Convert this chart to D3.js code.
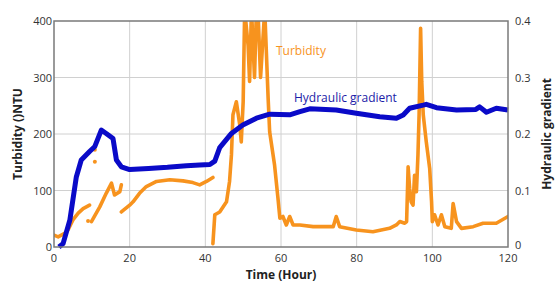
<!DOCTYPE html>
<html>
<head>
<meta charset="utf-8">
<script src="https://cdn.jsdelivr.net/npm/d3@7"></script>
<style>
  body { margin: 0; background: #fff; }
  text { font-family: "Open Sans", "DejaVu Sans", sans-serif; }
  .tick-label { font-size: 11px; fill: #333; }
  .axis-title { font-size: 12px; font-weight: bold; fill: #222; }
</style>
</head>
<body>
<svg id="chart" width="555" height="287"></svg>
<script>
//////////////////////////////////////////////////////////////////////////////////////////
// Data
//////////////////////////////////////////////////////////////////////////////////////////
var time_ticks = [0, 20, 40, 60, 80, 100, 120]
var turb_ticks = [0, 100, 200, 300, 400]
var grad_ticks = [0, 0.1, 0.2, 0.3, 0.4]

// hydraulic gradient [hour, value]
var gradient = [
  [1.3, 0], [2.4, 0.006], [4.2, 0.048], [5.9, 0.124], [7.2, 0.154], [9.4, 0.169],
  [10.8, 0.178], [12.5, 0.207], [13.8, 0.201], [15.6, 0.192], [16.5, 0.154],
  [17.8, 0.142], [20, 0.137], [25, 0.139], [30, 0.141], [35, 0.144], [38.5, 0.145],
  [41.2, 0.146], [42.5, 0.152], [43.8, 0.176], [46.9, 0.201], [49.9, 0.216],
  [53.5, 0.228], [57, 0.235], [62.3, 0.234], [65, 0.2395], [67.6, 0.2445],
  [74.6, 0.2425], [79.9, 0.2366], [86.1, 0.2306], [90.5, 0.2278], [92.3, 0.2336],
  [94, 0.2455], [97.6, 0.251], [98.4, 0.2525], [101.1, 0.2466], [106.4, 0.2425],
  [111.5, 0.2435], [112.5, 0.248], [114.3, 0.2384], [116.9, 0.2455], [120, 0.2425]
]

// turbidity [hour, NTU], null = gap in the record
var turbidity = [
  [0, 21], [1.1, 18], [2.8, 24], [3.7, 30], [5, 48], [6.4, 60], [7.7, 68], [9.4, 74], null,
  [9.9, 45], [12.1, 71], [13.8, 95], [15.2, 113], [16, 92], [17.4, 98], [17.8, 110], null,
  [17.8, 62], [20, 74], [20.9, 80], [22.6, 95], [24.4, 107], [27.1, 116], [30.6, 119],
  [34.1, 117], [36.7, 114], [38.5, 110], [40.3, 116], [42, 123], null,
  [42, 6], [42.5, 57], [43.8, 62], [45.6, 80], [46.4, 116], [46.9, 163], [47.3, 234],
  [48.2, 257], [49.1, 216], [49.5, 186], [50, 257], [50.4, 420], [51.3, 357], [51.7, 293],
  [52.2, 420], [53, 300], [53.5, 420], [53.9, 420], [54.6, 300], [55.7, 420], [56.6, 263],
  [57, 204], [58.3, 145], [59.2, 86], [59.7, 51], [60.5, 54], [61.4, 39], [62.3, 54],
  [63.2, 39], [65, 39], [68.5, 36], [73.8, 36], [74.6, 54], [75.5, 36], [79.9, 30],
  [84.3, 27], [88.7, 33], [90.5, 39], [91.4, 45], [92.7, 42], [93.2, 45], [93.6, 142],
  [94, 104], [94.4, 80], [94.9, 74], [95.3, 127], [95.8, 98], [96.2, 163], [96.5, 234],
  [96.9, 387], [97.2, 293], [97.6, 234], [98.4, 186], [99.3, 139], [99.8, 80], [100, 45],
  [100.6, 57], [101.5, 39], [102.4, 57], [103.3, 36], [105, 33], [105.5, 77], [106.4, 45],
  [107.7, 33], [110.8, 36], [113.4, 42], [116.9, 42], [120, 54]
]

// isolated turbidity readings
var turbidity_dots = [[9, 46], [10.8, 172], [10.8, 151]]

//////////////////////////////////////////////////////////////////////////////////////////
// Layout
//////////////////////////////////////////////////////////////////////////////////////////
var plot = { left: 54, right: 508, top: 21, bottom: 247 }
var colors = { turbidity: '#f7931e', gradient: '#0a0ac8', frame: '#7a7a7a', grid: '#d0d0d0' }

var svg = d3.select('#chart')

var x = d3.scaleLinear().domain([0, 120]).range([plot.left, plot.right])
var y_turb = d3.scaleLinear().domain([0, 400]).range([plot.bottom, plot.top])
var y_grad = d3.scaleLinear().domain([0, 0.4]).range([plot.bottom, plot.top])

svg.append('clipPath')
  .attr('id', 'clip-plot')
  .append('rect')
  .attr('x', plot.left)
  .attr('y', plot.top)
  .attr('width', plot.right - plot.left)
  .attr('height', plot.bottom - plot.top)

//////////////////////////////////////////////////////////////////////////////////////////
// Grid
//////////////////////////////////////////////////////////////////////////////////////////
svg.append('g')
  .selectAll('line')
  .data(time_ticks.slice(1, -1))
  .enter()
  .append('line')
  .attr('x1', function(d) { return x(d) })
  .attr('x2', function(d) { return x(d) })
  .attr('y1', plot.top)
  .attr('y2', plot.bottom)
  .attr('stroke', colors.grid)

svg.append('g')
  .selectAll('line')
  .data(turb_ticks.slice(1, -1))
  .enter()
  .append('line')
  .attr('x1', plot.left)
  .attr('x2', plot.right)
  .attr('y1', function(d) { return y_turb(d) })
  .attr('y2', function(d) { return y_turb(d) })
  .attr('stroke', colors.grid)

//////////////////////////////////////////////////////////////////////////////////////////
// Series
//////////////////////////////////////////////////////////////////////////////////////////
var turb_line = d3.line()
  .defined(function(d) { return d !== null })
  .x(function(d) { return x(d[0]) })
  .y(function(d) { return y_turb(d[1]) })

svg.append('path')
  .datum(turbidity)
  .attr('clip-path', 'url(#clip-plot)')
  .attr('d', turb_line)
  .attr('fill', 'none')
  .attr('stroke', colors.turbidity)
  .attr('stroke-width', 3.6)
  .attr('stroke-linejoin', 'round')
  .attr('stroke-linecap', 'round')

svg.append('g')
  .selectAll('circle')
  .data(turbidity_dots)
  .enter()
  .append('circle')
  .attr('cx', function(d) { return x(d[0]) })
  .attr('cy', function(d) { return y_turb(d[1]) })
  .attr('r', 2)
  .attr('fill', colors.turbidity)

var grad_line = d3.line()
  .x(function(d) { return x(d[0]) })
  .y(function(d) { return y_grad(d[1]) })

svg.append('path')
  .datum(gradient)
  .attr('d', grad_line)
  .attr('fill', 'none')
  .attr('stroke', colors.gradient)
  .attr('stroke-width', 5)
  .attr('stroke-linejoin', 'round')

//////////////////////////////////////////////////////////////////////////////////////////
// Frame and axes
//////////////////////////////////////////////////////////////////////////////////////////
svg.append('rect')
  .attr('x', plot.left)
  .attr('y', plot.top)
  .attr('width', plot.right - plot.left)
  .attr('height', plot.bottom - plot.top)
  .attr('fill', 'none')
  .attr('stroke', colors.frame)
  .attr('stroke-width', 1.5)

svg.append('g')
  .selectAll('text')
  .data(time_ticks)
  .enter()
  .append('text')
  .attr('class', 'tick-label')
  .attr('x', function(d) { return x(d) })
  .attr('y', plot.bottom + 15)
  .attr('text-anchor', 'middle')
  .text(function(d) { return d })

svg.append('g')
  .selectAll('text')
  .data(turb_ticks)
  .enter()
  .append('text')
  .attr('class', 'tick-label')
  .attr('x', plot.left - 2)
  .attr('y', function(d) { return y_turb(d) + 4 })
  .attr('text-anchor', 'end')
  .text(function(d) { return d })

svg.append('g')
  .selectAll('text')
  .data(grad_ticks)
  .enter()
  .append('text')
  .attr('class', 'tick-label')
  .attr('x', plot.right + 7)
  .attr('y', function(d) { return y_grad(d) + (d === 0 ? 2 : 4) })
  .attr('text-anchor', 'start')
  .text(function(d) { return d === 0 ? '0' : d3.format('.1f')(d) })

//////////////////////////////////////////////////////////////////////////////////////////
// Titles and labels
//////////////////////////////////////////////////////////////////////////////////////////
var mid_y = (plot.top + plot.bottom) / 2

svg.append('text')
  .attr('class', 'axis-title')
  .attr('transform', 'translate(22,' + mid_y + ') rotate(-90)')
  .attr('text-anchor', 'middle')
  .text('Turbidity ()NTU')

svg.append('text')
  .attr('class', 'axis-title')
  .attr('transform', 'translate(551,' + mid_y + ') rotate(-90)')
  .attr('text-anchor', 'middle')
  .text('Hydraulic gradient')

svg.append('text')
  .attr('class', 'axis-title')
  .attr('x', (plot.left + plot.right) / 2)
  .attr('y', 279)
  .attr('text-anchor', 'middle')
  .text('Time (Hour)')

svg.append('text')
  .attr('x', 276)
  .attr('y', 55)
  .attr('font-size', 12)
  .attr('fill', colors.turbidity)
  .text('Turbidity')

svg.append('text')
  .attr('x', 294)
  .attr('y', 102)
  .attr('font-size', 12)
  .attr('fill', '#1c1ca8')
  .text('Hydraulic gradient')
</script>
</body>
</html>
